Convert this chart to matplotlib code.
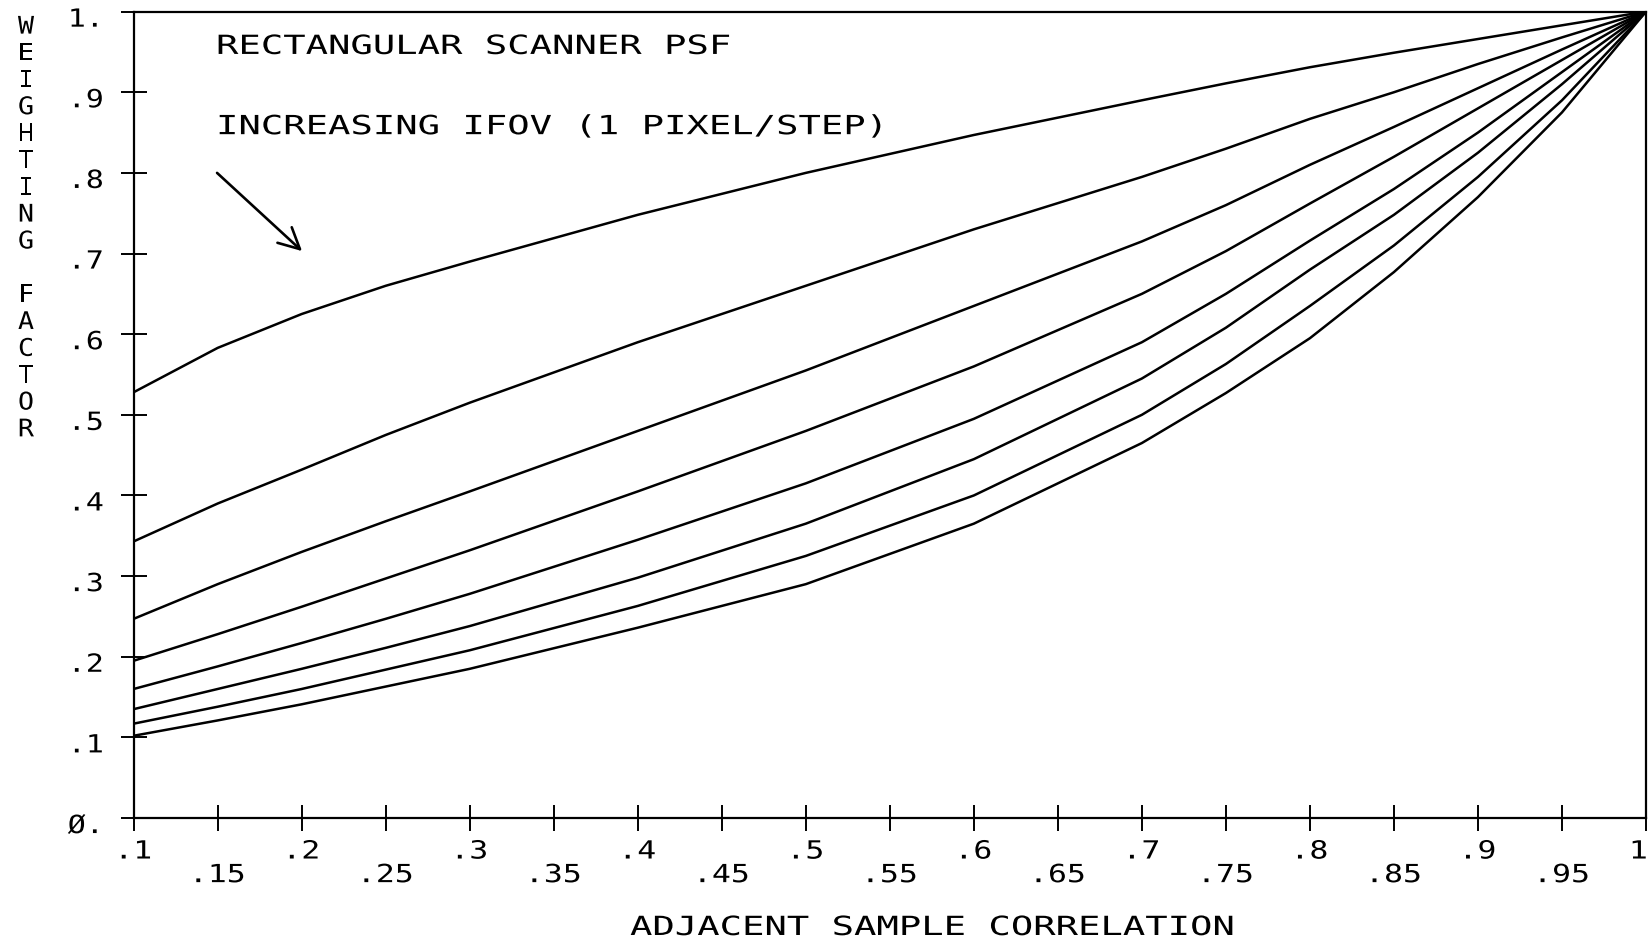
import numpy as np
import matplotlib
matplotlib.use("Agg")  # no display
from matplotlib import pyplot as plt
from matplotlib import transforms, patheffects

plt.rcParams['font.family'] = ['DejaVu Sans Mono', 'DejaVu Sans']

# adjacent sample correlation where the curves were read
corr = [0.1, 0.15, 0.2, 0.25, 0.3, 0.4, 0.5, 0.6, 0.7, 0.75, 0.8, 0.85, 0.9, 0.95, 1.0]

# weighting factor, one list per IFOV step (top curve first)
step1 = [0.528, 0.583, 0.625, 0.660, 0.690, 0.748, 0.800, 0.847, 0.890, 0.911, 0.931, 0.949, 0.966, 0.983, 1.0]
step2 = [0.343, 0.390, 0.432, 0.475, 0.515, 0.590, 0.660, 0.730, 0.795, 0.830, 0.867, 0.900, 0.935, 0.968, 1.0]
step3 = [0.247, 0.290, 0.330, 0.368, 0.405, 0.480, 0.555, 0.635, 0.715, 0.760, 0.810, 0.857, 0.905, 0.953, 1.0]
step4 = [0.195, 0.228, 0.262, 0.297, 0.332, 0.405, 0.480, 0.560, 0.650, 0.703, 0.762, 0.820, 0.880, 0.940, 1.0]
step5 = [0.160, 0.188, 0.217, 0.247, 0.278, 0.345, 0.415, 0.495, 0.590, 0.650, 0.716, 0.780, 0.850, 0.925, 1.0]
step6 = [0.135, 0.160, 0.185, 0.211, 0.238, 0.298, 0.365, 0.445, 0.545, 0.608, 0.680, 0.748, 0.825, 0.910, 1.0]
step7 = [0.117, 0.138, 0.160, 0.184, 0.208, 0.263, 0.325, 0.400, 0.500, 0.563, 0.635, 0.710, 0.795, 0.890, 1.0]
step8 = [0.102, 0.121, 0.141, 0.163, 0.185, 0.236, 0.290, 0.365, 0.465, 0.527, 0.595, 0.677, 0.770, 0.875, 1.0]

x_ticks = [0.1, 0.15, 0.2, 0.25, 0.3, 0.35, 0.4, 0.45, 0.5, 0.55,
           0.6, 0.65, 0.7, 0.75, 0.8, 0.85, 0.9, 0.95, 1.0]
x_labels = ['.1', '.15', '.2', '.25', '.3', '.35', '.4', '.45', '.5', '.55',
            '.6', '.65', '.7', '.75', '.8', '.85', '.9', '.95', '1']
y_ticks = [0, 0.1, 0.2, 0.3, 0.4, 0.5, 0.6, 0.7, 0.8, 0.9, 1.0]
y_labels = ['Ø.', '.1', '.2', '.3', '.4', '.5', '.6', '.7', '.8', '.9', '1.']


class Stretch(patheffects.AbstractPathEffect):
    """widen the glyphs sideways, the plotter font is very spaced out"""
    def __init__(self, sx, center=False):
        super().__init__()
        self.sx = sx
        self.center = center

    def draw_path(self, renderer, gc, tpath, affine, rgbFace=None):
        cx = 0
        if self.center:
            ext = tpath.get_extents()
            cx = (ext.x0 + ext.x1) / 2
        t = transforms.Affine2D().translate(-cx, 0).scale(self.sx, 1).translate(cx, 0) + affine
        renderer.draw_path(gc, tpath, t, rgbFace)


fig = plt.figure(figsize=(16.51, 9.45), dpi=100)
ax = fig.add_axes([133.7/1651, 1-819/945, (1646-133.7)/1651, (819-12.6)/945])

for s in [step1, step2, step3, step4, step5, step6, step7, step8]:
    ax.plot(corr, s, color='k', lw=1.8, solid_joinstyle='round')

ax.set(xlim=(0.1, 1.0), ylim=(0, 1))
for sp in ax.spines.values():
    sp.set_linewidth(1.6)

ax.set_xticks(x_ticks, x_labels)
ax.set_yticks(y_ticks, y_labels)
ax.tick_params(direction='inout', length=19, width=1.4, labelsize=18)
ax.tick_params(axis='y', pad=38)
# two rows of x labels, like the plotter did it
for i, t in enumerate(ax.xaxis.get_major_ticks()):
    t.set_pad(6 if i % 2 == 0 else 23)
for lab in ax.get_xticklabels():
    lab.set_path_effects([Stretch(1.26, center=True)])
ax.get_xticklabels()[-1].set_ha('right')
shift = transforms.ScaledTranslation(0, -4/72, fig.dpi_scale_trans)
for lab in ax.get_yticklabels():
    lab.set_ha('left')
    lab.set_transform(lab.get_transform() + shift)
    lab.set_path_effects([Stretch(1.2)])

wide = [Stretch(1.41)]
ax.text(0.149, 0.9475, 'RECTANGULAR SCANNER PSF', fontsize=19, va='baseline',
        path_effects=wide)
ax.text(0.149, 0.848, 'INCREASING IFOV (1 PIXEL/STEP)', fontsize=19, va='baseline',
        path_effects=wide)
ax.annotate('', xy=(0.2002, 0.703), xytext=(0.1496, 0.80),
            arrowprops=dict(arrowstyle='->,head_length=0.75,head_width=0.38',
                            lw=1.9, color='k', mutation_scale=20,
                            shrinkA=0, shrinkB=0))

fig.text(26/1651, 1-229/945, '\n'.join('WEIGHTING FACTOR').replace('\n \n', '\n\n'),
         ha='center', va='center', fontsize=17.5, linespacing=1.15,
         path_effects=[Stretch(1.1, center=True)])
fig.text(932/1651, 1-929/945, 'ADJACENT SAMPLE CORRELATION',
         ha='center', va='center', fontsize=19,
         path_effects=[Stretch(1.41, center=True)])

fig.savefig('out.png', dpi=100, facecolor='white')
